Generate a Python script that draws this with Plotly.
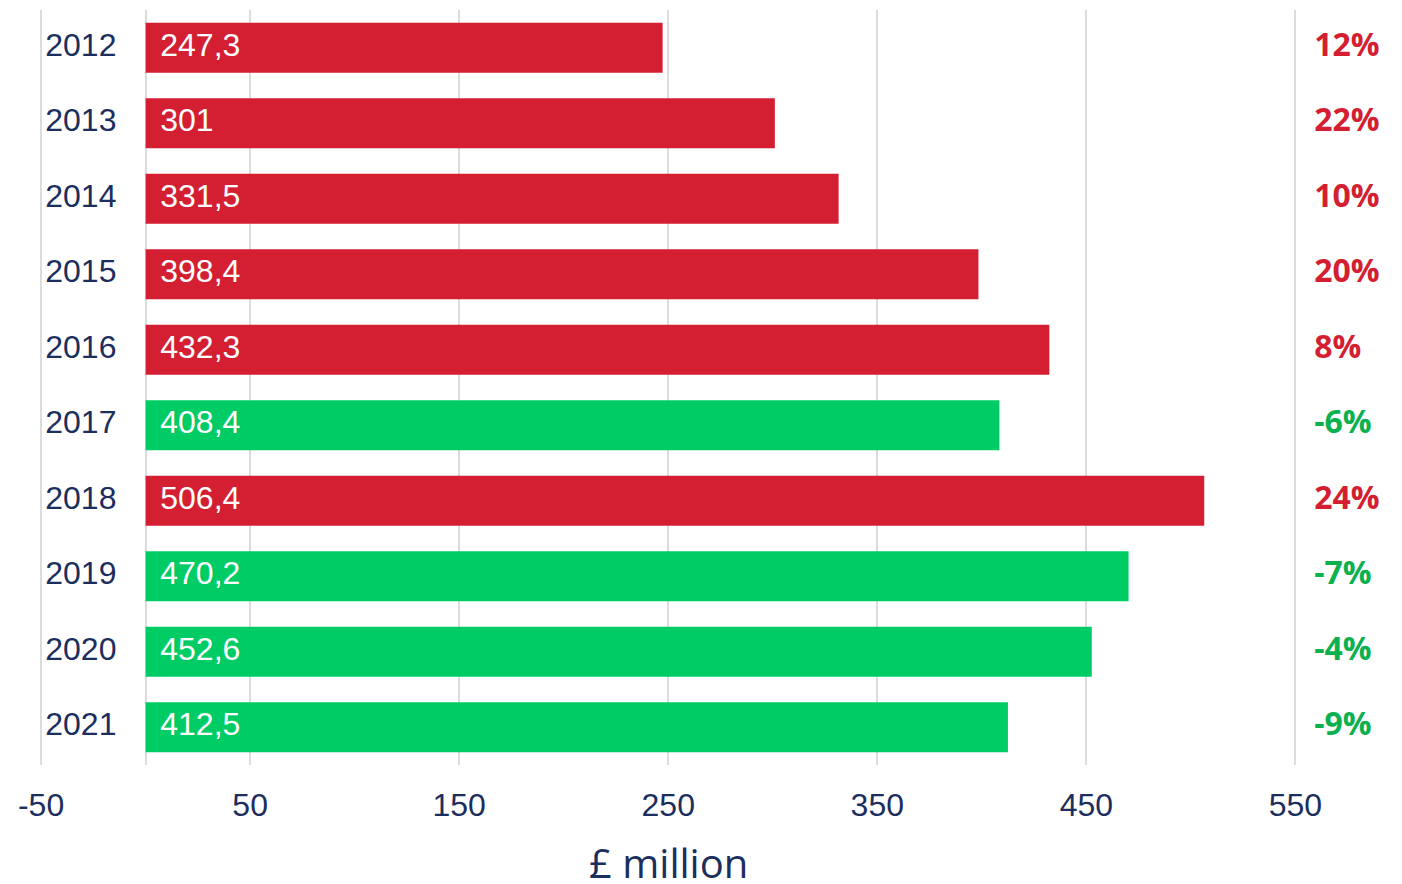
import plotly.graph_objects as go

years = ["2012", "2013", "2014", "2015", "2016", "2017", "2018", "2019", "2020", "2021"]
values = [247.3, 301, 331.5, 398.4, 432.3, 408.4, 506.4, 470.2, 452.6, 412.5]
value_labels = ["247,3", "301", "331,5", "398,4", "432,3", "408,4", "506,4", "470,2", "452,6", "412,5"]
changes = ["12%", "22%", "10%", "20%", "8%", "-6%", "24%", "-7%", "-4%", "-9%"]
tick_vals = [-50, 0, 50, 150, 250, 350, 450, 550]
tick_text = ["-50", "", "50", "150", "250", "350", "450", "550"]

RED = "#d41f32"
GREEN = "#00cc66"
RED_TXT = "#d41f32"
GREEN_TXT = "#0bb04f"
NAVY = "#1c2e5e"

up = [not c.startswith("-") for c in changes]
bar_colors = [RED if u else GREEN for u in up]
pct_colors = [RED_TXT if u else GREEN_TXT for u in up]

fig = go.Figure()
fig.add_trace(go.Bar(
    y=years, x=values, orientation="h",
    marker=dict(color=bar_colors, line=dict(width=0)),
    hoverinfo="skip",
))
# value labels inside bars
fig.add_trace(go.Scatter(
    y=years, x=[7] * len(years), mode="text", text=value_labels,
    textposition="middle right",
    textfont=dict(family="Liberation Sans, Arial", size=32, color="white"),
    hoverinfo="skip", cliponaxis=False,
))
# year labels
fig.add_trace(go.Scatter(
    y=years, x=[-48] * len(years), mode="text", text=years,
    textposition="middle right",
    textfont=dict(family="Liberation Sans, Arial", size=32, color=NAVY),
    hoverinfo="skip", cliponaxis=False,
))
# percentage change labels
fig.add_trace(go.Scatter(
    y=years, x=[559] * len(years), mode="text", text=changes,
    textposition="middle right",
    textfont=dict(family="Open Sans", size=32, color=pct_colors, weight="bold"),
    hoverinfo="skip", cliponaxis=False,
))

fig.add_annotation(
    x=250, xref="x", y=0, yref="paper", yshift=-127, yanchor="bottom",
    text="£ million", showarrow=False,
    font=dict(family="Open Sans", size=40, color=NAVY),
)

fig.update_layout(
    width=1402, height=884,
    margin=dict(l=39, r=0, t=10, b=119),
    paper_bgcolor="white", plot_bgcolor="white",
    showlegend=False, bargap=0.34,
    xaxis=dict(
        range=[-51, 601], tickmode="array", tickvals=tick_vals, ticktext=tick_text,
        showgrid=True, gridcolor="#dcdcdc", gridwidth=2, zeroline=False,
        showline=False, ticks="", ticklabelstandoff=18, automargin=False,
        tickfont=dict(family="Liberation Sans, Arial", size=32, color=NAVY),
        fixedrange=True,
    ),
    yaxis=dict(
        autorange="reversed", showticklabels=False, showgrid=False,
        zeroline=False, showline=False, ticks="", automargin=False,
        categoryorder="array", categoryarray=years, fixedrange=True,
    ),
)

fig.write_html(
    "out.html",
    config={"displayModeBar": False},
    post_script="document.body.style.margin='0';document.body.style.overflow='hidden';",
)
